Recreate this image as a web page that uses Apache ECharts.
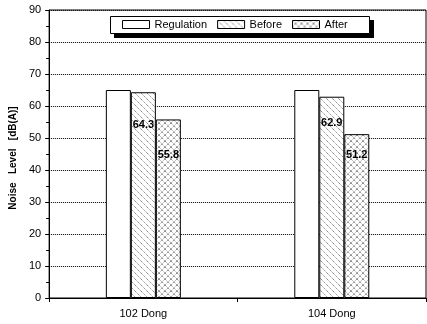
<!DOCTYPE html>
<html>
<head>
<meta charset="utf-8">
<script src="https://cdn.jsdelivr.net/npm/echarts@6/dist/echarts.min.js"></script>
<style>
  html, body { margin: 0; padding: 0; background: #fff; }
  #chart { width: 427px; height: 324px; }
</style>
</head>
<body>
<div id="chart"></div>
<script>
// Noise levels per building
const categories = ['102 Dong', '104 Dong'];
const regulation = [65, 65];
const before = [64.3, 62.9];
const after = [55.8, 51.2];
const seriesNames = ['Regulation', 'Before', 'After'];

// Label offsets from bar tops (px)
const beforeLabelGap = [27, 21];
const afterLabelGap = [30, 15];

// Hatch fills drawn on small tiles
function hatchTile(cross) {
  const s = 6;
  const c = document.createElement('canvas');
  c.width = s; c.height = s;
  const g = c.getContext('2d');
  g.fillStyle = '#fff';
  g.fillRect(0, 0, s, s);
  g.strokeStyle = '#333';
  g.lineWidth = 0.8;
  g.setLineDash([1, 1]);
  g.beginPath();
  g.moveTo(-1, -1); g.lineTo(s + 1, s + 1);
  if (cross) { g.moveTo(s + 1, -1); g.lineTo(-1, s + 1); }
  g.stroke();
  return { image: c, repeat: 'repeat' };
}

const font = 'Liberation Sans, Arial, sans-serif';
const chart = echarts.init(document.getElementById('chart'));

function labelled(values, gaps) {
  return values.map((v, i) => ({
    value: v,
    label: {
      show: true,
      position: 'insideTop',
      distance: gaps[i],
      color: '#000',
      fontWeight: 'bold',
      fontSize: 11,
      fontFamily: font
    }
  }));
}

chart.setOption({
  animation: false,
  textStyle: { fontFamily: font },
  grid: { left: 49, right: 1, top: 10, bottom: 26, show: true, borderColor: '#000', borderWidth: 1 },
  graphic: [
    // legend frame with drop shadow
    { type: 'rect', z: 90, shape: { x: 114, y: 20, width: 260, height: 18 }, style: { fill: '#000', stroke: null } },
    { type: 'rect', z: 91, shape: { x: 110.5, y: 16.5, width: 259, height: 17 }, style: { fill: '#fff', stroke: '#000', lineWidth: 1 } }
  ],
  legend: {
    data: seriesNames,
    left: 122,
    top: 19,
    padding: 0,
    z: 95,
    icon: 'rect',
    itemWidth: 27,
    itemHeight: 8,
    itemGap: 10,
    itemStyle: { borderColor: '#000', borderWidth: 1 },
    textStyle: { fontSize: 11, color: '#000', fontFamily: font }
  },
  xAxis: [{
    type: 'category',
    data: categories,
    axisLine: { lineStyle: { color: '#000', width: 1 } },
    axisTick: { alignWithLabel: true, length: 5, lineStyle: { color: '#000' } },
    axisLabel: { color: '#000', fontSize: 11, margin: 10, fontFamily: font },
    splitLine: { show: false }
  }, {
    type: 'value',
    position: 'bottom',
    min: 0, max: 2, interval: 1,
    axisLine: { show: false },
    axisTick: { show: true, length: 4, lineStyle: { color: '#000' } },
    axisLabel: { show: false },
    splitLine: { show: false }
  }],
  yAxis: {
    type: 'value',
    min: 0, max: 90, interval: 10,
    name: 'Noise   Level   [dB(A)]',
    nameLocation: 'middle',
    nameGap: 28,
    nameTextStyle: { fontWeight: 'bold', fontSize: 10, color: '#000', fontFamily: font, padding: [0, 0, 0, -8] },
    axisLine: { show: true, lineStyle: { color: '#000', width: 1 } },
    axisTick: { show: true, length: 4, lineStyle: { color: '#000' } },
    minorTick: { show: true, splitNumber: 2, length: 3, lineStyle: { color: '#000' } },
    axisLabel: { color: '#000', fontSize: 11, margin: 8, fontFamily: font },
    splitLine: { show: true, lineStyle: { color: '#000', type: [1, 1], width: 1 } }
  },
  series: [{
    name: seriesNames[0], type: 'bar', data: regulation, barWidth: 25, barGap: '0%',
    itemStyle: { color: '#fff', borderColor: '#000', borderWidth: 1 }
  }, {
    name: seriesNames[1], type: 'bar', data: labelled(before, beforeLabelGap), barWidth: 25, barGap: '0%',
    itemStyle: { color: hatchTile(false), borderColor: '#000', borderWidth: 1 }
  }, {
    name: seriesNames[2], type: 'bar', data: labelled(after, afterLabelGap), barWidth: 25, barGap: '0%',
    itemStyle: { color: hatchTile(true), borderColor: '#000', borderWidth: 1 }
  }]
});
</script>
</body>
</html>
